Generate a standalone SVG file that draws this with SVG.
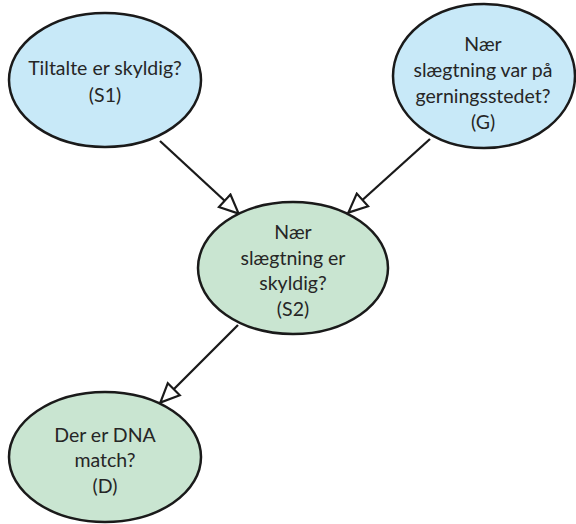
<svg xmlns="http://www.w3.org/2000/svg" width="576" height="524" viewBox="0 0 576 524">
<style>
.blue{fill:#c8e9f8;stroke:#1a1a1a;stroke-width:2.5}
.green{fill:#c9e5d1;stroke:#1a1a1a;stroke-width:2.5}
.t{font-family:Lato,"Liberation Sans",sans-serif;font-size:19.5px;fill:#262626;text-anchor:middle}
.edge{stroke:#1a1a1a;stroke-width:2.3;fill:none;marker-end:url(#arr)}
</style>
<defs>
<marker id="arr" viewBox="0 0 22 20" refX="21" refY="10" markerWidth="22" markerHeight="20" markerUnits="userSpaceOnUse" orient="auto">
<path d="M1.5,1.5 L20.5,10 L1.5,18.5 Z" fill="#fff" stroke="#1a1a1a" stroke-width="2.2"/>
</marker>
</defs>
<g id="connectors">
<line class="edge" x1="160" y1="141" x2="239" y2="214"/>
<line class="edge" x1="430" y1="139" x2="348" y2="213"/>
<line class="edge" x1="238" y1="325" x2="160" y2="403"/>
</g>
<g id="S1">
<ellipse class="blue" cx="105" cy="80" rx="96" ry="67"/>
<text class="t" x="105" y="75">Tiltalte er skyldig?</text>
<text class="t" x="105" y="102">(S1)</text>
</g>
<g id="G">
<ellipse class="blue" cx="484" cy="76" rx="91" ry="72"/>
<text class="t" x="483" y="51">Nær</text>
<text class="t" x="483" y="77">slægtning var på</text>
<text class="t" x="483" y="103">gerningsstedet?</text>
<text class="t" x="483" y="129">(G)</text>
</g>
<g id="S2">
<ellipse class="green" cx="293" cy="268" rx="95" ry="66"/>
<text class="t" x="293" y="239">Nær</text>
<text class="t" x="293" y="265">slægtning er</text>
<text class="t" x="293" y="290">skyldig?</text>
<text class="t" x="293" y="316">(S2)</text>
</g>
<g id="D">
<ellipse class="green" cx="105" cy="457" rx="96" ry="65"/>
<text class="t" x="105" y="442">Der er DNA</text>
<text class="t" x="105" y="467">match?</text>
<text class="t" x="105" y="493">(D)</text>
</g>
</svg>
